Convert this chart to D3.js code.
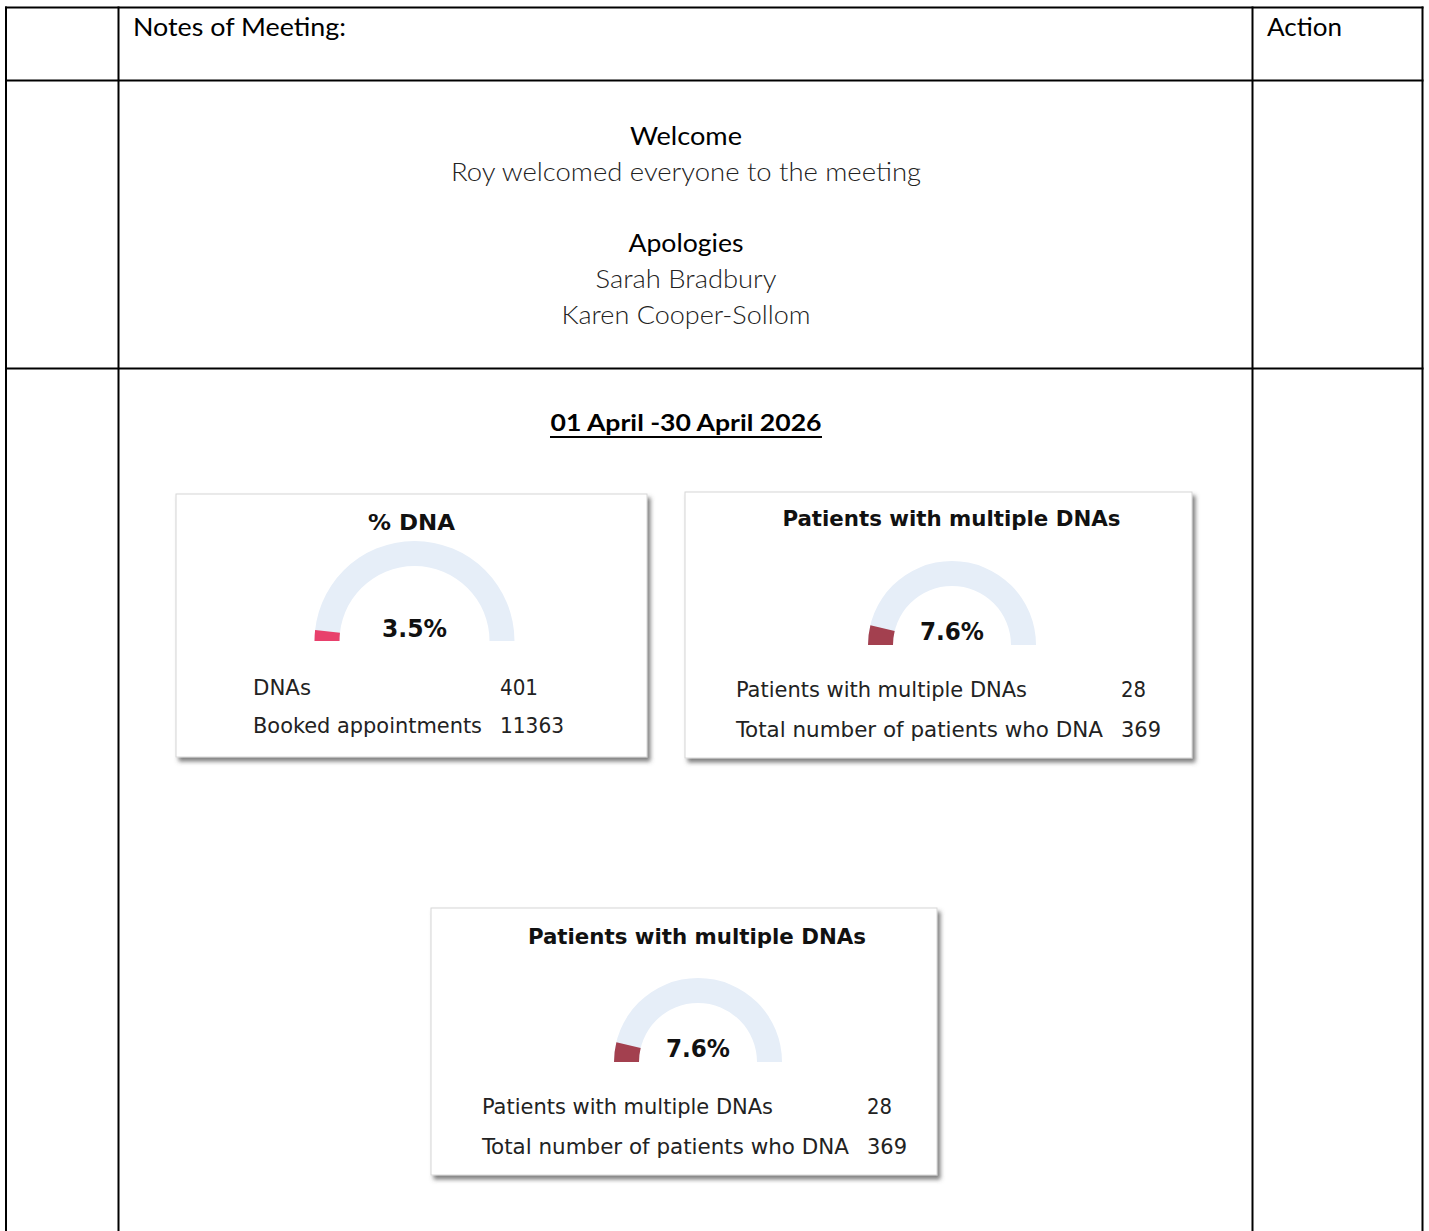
<!DOCTYPE html>
<html>
<head>
<meta charset="utf-8">
<script src="https://cdn.jsdelivr.net/npm/d3@7"></script>
<style>
    body { margin: 0; background: #fff; }
    svg { display: block; }
</style>
</head>
<body>
<div id="page"></div>
<script>
// Table header
const headerLabels = ['Notes of Meeting:', 'Action'];

// Welcome / apologies block
const welcomeTitle = 'Welcome';
const welcomeText = 'Roy welcomed everyone to the meeting';
const apologiesTitle = 'Apologies';
const apologiesNames = ['Sarah Bradbury', 'Karen Cooper-Sollom'];

// Period
const periodLabel = '01 April -30 April 2026';

// Gauges
const gaugeTitles = ['% DNA', 'Patients with multiple DNAs', 'Patients with multiple DNAs'];
const gaugeValues = [3.5, 7.6, 7.6];
const gaugeColors = ['#e8406c', '#a3404f'];
const rowLabels = [
    ['DNAs', 'Booked appointments'],
    ['Patients with multiple DNAs', 'Total number of patients who DNA'],
    ['Patients with multiple DNAs', 'Total number of patients who DNA']
];
const rowValues = [
    [401, 11363],
    [28, 369],
    [28, 369]
];

const width = 1429;
const height = 1231;

const svg = d3.select('#page')
    .append('svg')
    .attr('width', width)
    .attr('height', height);

// shadow for the cards
const defs = svg.append('defs');
const shadow = defs.append('filter')
    .attr('id', 'shadow')
    .attr('x', '-5%').attr('y', '-5%')
    .attr('width', '115%').attr('height', '120%');
shadow.append('feDropShadow')
    .attr('dx', 3).attr('dy', 4)
    .attr('stdDeviation', 2)
    .attr('flood-color', '#555')
    .attr('flood-opacity', 0.75);

// Table grid
const colX = [6, 118.5, 1252.5, 1422.5];
const rowY = [7.5, 80.5, 368.5, 1240];
const grid = svg.append('g').attr('stroke', '#000').attr('stroke-width', 2);
colX.forEach(x => {
    grid.append('line').attr('x1', x).attr('x2', x).attr('y1', rowY[0] - 1).attr('y2', height);
});
rowY.slice(0, 3).forEach(y => {
    grid.append('line').attr('x1', colX[0] - 1).attr('x2', colX[3] + 1).attr('y1', y).attr('y2', y);
});

const docFont = 'Lato, Carlito, Calibri, sans-serif';

// header texts
svg.append('text')
    .attr('x', 133).attr('y', 36)
    .attr('font-family', docFont).attr('font-size', 25)
    .attr('textLength', 213).attr('lengthAdjust', 'spacingAndGlyphs')
    .text(headerLabels[0]);
svg.append('text')
    .attr('x', 1267).attr('y', 36)
    .attr('font-family', docFont).attr('font-size', 25)
    .attr('textLength', 75).attr('lengthAdjust', 'spacingAndGlyphs')
    .text(headerLabels[1]);

// welcome block
const cx = 686;
const block = svg.append('g')
    .attr('font-family', docFont)
    .attr('text-anchor', 'middle')
    .attr('font-size', 25);

block.append('text').attr('x', cx).attr('y', 145)
    .attr('textLength', 112).attr('lengthAdjust', 'spacingAndGlyphs')
    .text(welcomeTitle);
block.append('text').attr('x', cx).attr('y', 181)
    .attr('font-weight', 300).attr('fill', '#222')
    .attr('textLength', 470).attr('lengthAdjust', 'spacingAndGlyphs')
    .text(welcomeText);
block.append('text').attr('x', cx).attr('y', 252)
    .attr('textLength', 115).attr('lengthAdjust', 'spacingAndGlyphs')
    .text(apologiesTitle);
apologiesNames.forEach((name, i) => {
    block.append('text').attr('x', cx).attr('y', 288 + i * 36)
        .attr('font-weight', 300).attr('fill', '#222')
        .attr('textLength', i === 0 ? 181 : 249).attr('lengthAdjust', 'spacingAndGlyphs')
        .text(name);
});

// period title, underlined
const period = svg.append('text')
    .attr('x', cx).attr('y', 431)
    .attr('text-anchor', 'middle')
    .attr('font-family', docFont).attr('font-size', 23).attr('font-weight', 'bold')
    .attr('textLength', 271).attr('lengthAdjust', 'spacingAndGlyphs')
    .text(periodLabel);
svg.append('line')
    .attr('x1', 550).attr('x2', 822)
    .attr('y1', 437).attr('y2', 437)
    .attr('stroke', '#000').attr('stroke-width', 2);

// gauge cards
const cards = [
    { x: 176, y: 494, w: 471, h: 263, gx: 414.5, gy: 641, r: 100, color: gaugeColors[0],
      titleY: 530, valueY: 637, valueW: 65, titleW: 87, rowX: 253, valX: 500, rowY: [695, 733],
      labelW: [58, 229], numW: [38, 64] },
    { x: 685, y: 492, w: 507, h: 266, gx: 952, gy: 645, r: 84, color: gaugeColors[1],
      titleY: 526, valueY: 640, valueW: 64, titleW: 338, rowX: 736, valX: 1121, rowY: [697, 737],
      labelW: [291, 367], numW: [25, 40] },
    { x: 431, y: 908, w: 506, h: 267, gx: 698, gy: 1062, r: 84, color: gaugeColors[1],
      titleY: 944, valueY: 1057, valueW: 64, titleW: 338, rowX: 482, valX: 867, rowY: [1114, 1154],
      labelW: [291, 367], numW: [25, 40] }
];

const cardFont = 'Tahoma, "DejaVu Sans Condensed", "DejaVu Sans", sans-serif';
const angle = d3.scaleLinear().domain([0, 100]).range([-Math.PI / 2, Math.PI / 2]);

cards.forEach((c, i) => {
    const g = svg.append('g').attr('class', 'card');

    g.append('rect')
        .attr('x', c.x).attr('y', c.y)
        .attr('width', c.w).attr('height', c.h)
        .attr('fill', '#fff')
        .attr('stroke', '#d6d6d6')
        .attr('filter', 'url(#shadow)');

    g.append('text')
        .attr('x', c.x + c.w / 2 + (i === 0 ? 0 : 13)).attr('y', c.titleY)
        .attr('text-anchor', 'middle')
        .attr('font-family', cardFont).attr('font-size', 21).attr('font-weight', 'bold')
        .attr('fill', '#111')
        .attr('textLength', c.titleW).attr('lengthAdjust', 'spacingAndGlyphs')
        .text(gaugeTitles[i]);

    const arc = d3.arc()
        .innerRadius(c.r - 25)
        .outerRadius(c.r);

    const gauge = g.append('g').attr('transform', `translate(${c.gx},${c.gy})`);

    gauge.append('path')
        .attr('d', arc({ startAngle: angle(0), endAngle: angle(100) }))
        .attr('fill', '#e6eef8');

    gauge.append('path')
        .attr('d', arc({ startAngle: angle(0), endAngle: angle(gaugeValues[i]) }))
        .attr('fill', c.color);

    gauge.append('text')
        .attr('x', 0).attr('y', c.valueY - c.gy)
        .attr('text-anchor', 'middle')
        .attr('font-family', cardFont).attr('font-size', 24).attr('font-weight', 'bold')
        .attr('fill', '#111')
        .attr('textLength', c.valueW).attr('lengthAdjust', 'spacingAndGlyphs')
        .text(gaugeValues[i] + '%');

    rowLabels[i].forEach((label, j) => {
        g.append('text')
            .attr('x', c.rowX).attr('y', c.rowY[j])
            .attr('font-family', cardFont).attr('font-size', 22)
            .attr('fill', '#222')
            .attr('textLength', c.labelW[j]).attr('lengthAdjust', 'spacingAndGlyphs')
            .text(label);
        g.append('text')
            .attr('x', c.valX).attr('y', c.rowY[j])
            .attr('font-family', cardFont).attr('font-size', 22)
            .attr('fill', '#222')
            .attr('textLength', c.numW[j]).attr('lengthAdjust', 'spacingAndGlyphs')
            .text(rowValues[i][j]);
    });
});
</script>
</body>
</html>
